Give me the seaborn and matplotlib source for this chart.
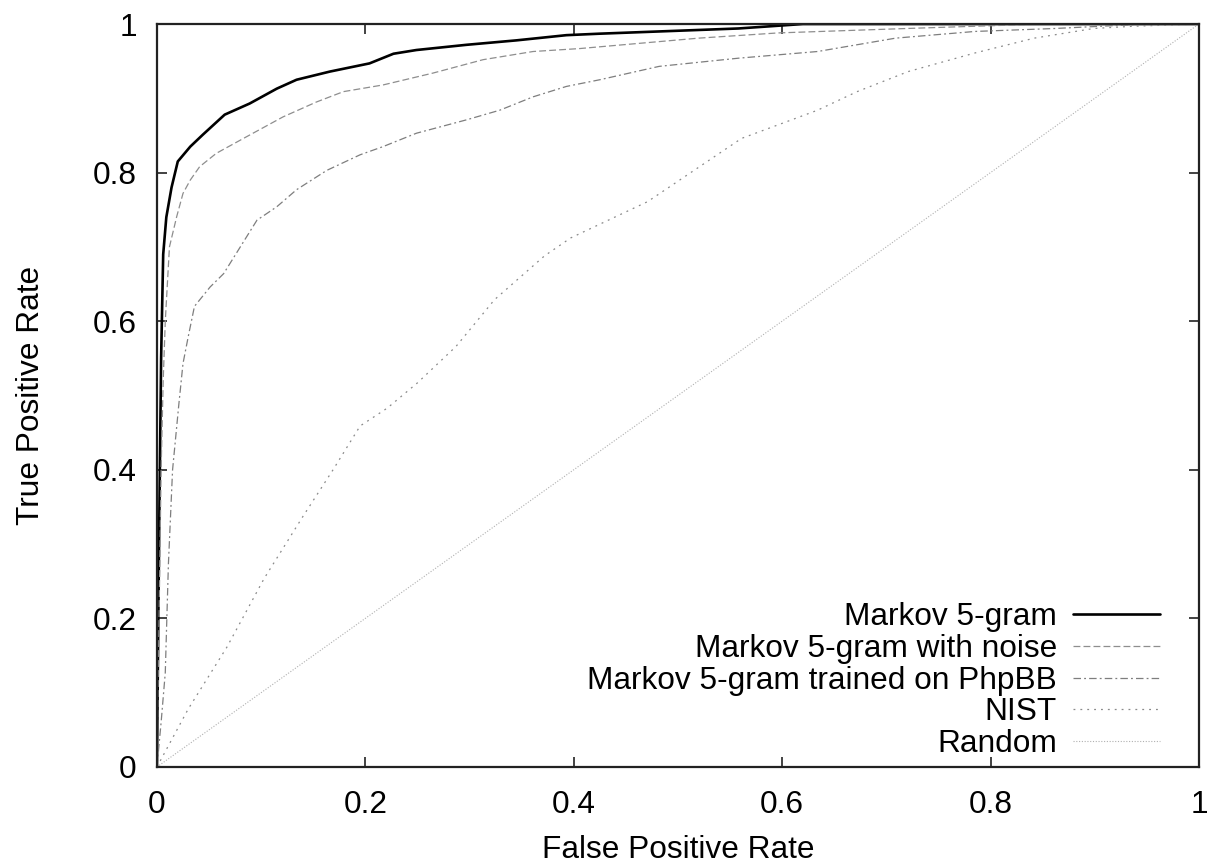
import numpy as np
import pandas as pd
import matplotlib
matplotlib.use('Agg')
import matplotlib.pyplot as plt
import seaborn as sns

# ROC curves
fpr_markov = [0, 0.001, 0.002, 0.004, 0.006, 0.009, 0.014, 0.020, 0.032, 0.044, 0.065, 0.089,
              0.115, 0.134, 0.166, 0.204, 0.227, 0.249, 0.297, 0.345, 0.393, 0.425, 0.482,
              0.558, 0.62, 1.0]
tpr_markov = [0, 0.15, 0.30, 0.55, 0.69, 0.74, 0.78, 0.815, 0.835, 0.851, 0.878, 0.893,
              0.913, 0.925, 0.936, 0.947, 0.960, 0.965, 0.972, 0.978, 0.985, 0.987, 0.990,
              0.994, 1.0, 1.0]

fpr_noise = [0, 0.002, 0.004, 0.006, 0.008, 0.012, 0.019, 0.025, 0.032, 0.041, 0.057, 0.083,
             0.121, 0.153, 0.179, 0.217, 0.265, 0.313, 0.361, 0.406, 0.52, 0.596, 0.72,
             0.85, 1.0]
tpr_noise = [0, 0.20, 0.40, 0.52, 0.60, 0.70, 0.741, 0.772, 0.790, 0.808, 0.826, 0.846,
             0.875, 0.895, 0.909, 0.918, 0.934, 0.952, 0.963, 0.967, 0.981, 0.988, 0.994,
             1.0, 1.0]

fpr_phpbb = [0, 0.004, 0.008, 0.011, 0.015, 0.021, 0.025, 0.030, 0.036, 0.051, 0.064, 0.080,
             0.096, 0.115, 0.134, 0.163, 0.195, 0.217, 0.249, 0.297, 0.329, 0.361, 0.393,
             0.425, 0.482, 0.558, 0.634, 0.709, 0.785, 0.862, 0.95, 1.0]
tpr_phpbb = [0, 0.06, 0.127, 0.273, 0.40, 0.488, 0.543, 0.579, 0.620, 0.646, 0.664, 0.700,
             0.736, 0.754, 0.777, 0.803, 0.824, 0.835, 0.853, 0.871, 0.884, 0.902, 0.916,
             0.925, 0.943, 0.954, 0.963, 0.981, 0.990, 0.994, 1.0, 1.0]

fpr_nist = [0, 0.030, 0.067, 0.103, 0.140, 0.169, 0.195, 0.221, 0.25, 0.287, 0.324, 0.372,
            0.397, 0.471, 0.561, 0.634, 0.672, 0.721, 0.785, 0.842, 0.899, 0.937, 1.0]
tpr_nist = [0, 0.078, 0.161, 0.254, 0.337, 0.40, 0.459, 0.483, 0.517, 0.566, 0.629, 0.688,
            0.712, 0.761, 0.846, 0.884, 0.909, 0.936, 0.961, 0.981, 0.994, 0.997, 1.0]

fpr_random = [0, 1]
tpr_random = [0, 1]

labels = ['Markov 5-gram', 'Markov 5-gram with noise', 'Markov 5-gram trained on PhpBB',
          'NIST', 'Random']

sns.set_style('ticks')
plt.rcParams['font.family'] = ['Liberation Sans', 'DejaVu Sans']
plt.rcParams['text.color'] = 'black'
plt.rcParams['axes.labelcolor'] = 'black'
plt.rcParams['xtick.labelcolor'] = 'black'
plt.rcParams['ytick.labelcolor'] = 'black'
fs = 22.8

fig = plt.figure(figsize=(12.11, 8.64), dpi=100)
ax = fig.add_axes([0.1296, 0.1123, 0.8604, 0.8599])

# 实线 + 各种虚线, 仿 gnuplot 风格
sns.lineplot(x=fpr_markov, y=tpr_markov, sort=False, ax=ax, color='black',
             linewidth=1.9, label=labels[0])
sns.lineplot(x=fpr_noise, y=tpr_noise, sort=False, ax=ax, color='#8e8e8e',
             linewidth=0.9, linestyle=(0, (5.5, 2.5)), label=labels[1])
sns.lineplot(x=fpr_phpbb, y=tpr_phpbb, sort=False, ax=ax, color='#7e7e7e',
             linewidth=0.9, linestyle=(0, (6, 2.5, 1.5, 2.5)), label=labels[2])
sns.lineplot(x=fpr_nist, y=tpr_nist, sort=False, ax=ax, color='#8a8a8a',
             linewidth=0.9, linestyle=(0, (1.5, 4)), label=labels[3])
sns.lineplot(x=fpr_random, y=tpr_random, sort=False, ax=ax, color='#b0b0b0',
             linewidth=0.8, linestyle=(0, (1, 1.5)), label=labels[4])

ax.set_xlim(0, 1)
ax.set_ylim(0, 1)
ticks = [0, 0.2, 0.4, 0.6, 0.8, 1]
tick_labels = ['0', '0.2', '0.4', '0.6', '0.8', '1']
ax.set_xticks(ticks)
ax.set_xticklabels(tick_labels)
ax.set_yticks(ticks)
ax.set_yticklabels(tick_labels)
ax.tick_params(direction='in', length=7, width=1.2, top=True, right=True,
               labelsize=fs, color='#222222')
ax.tick_params(axis='x', pad=16.5)
ax.tick_params(axis='y', pad=14.5)
for s in ax.spines.values():
    s.set_visible(True)
    s.set_linewidth(1.6)
    s.set_color('#222222')

ax.set_xlabel('False Positive Rate', fontsize=fs, labelpad=11)
ax.set_ylabel('True Positive Rate', fontsize=fs, labelpad=34)

leg = ax.legend(loc='lower right', frameon=False, markerfirst=False, fontsize=fs,
                handlelength=2.75, handletextpad=0.5, labelspacing=0.05,
                borderpad=0, borderaxespad=0, bbox_to_anchor=(0.9626, 0.011))
for t in leg.get_texts():
    t.set_ha('right')

fig.savefig('out.png', dpi=100)
